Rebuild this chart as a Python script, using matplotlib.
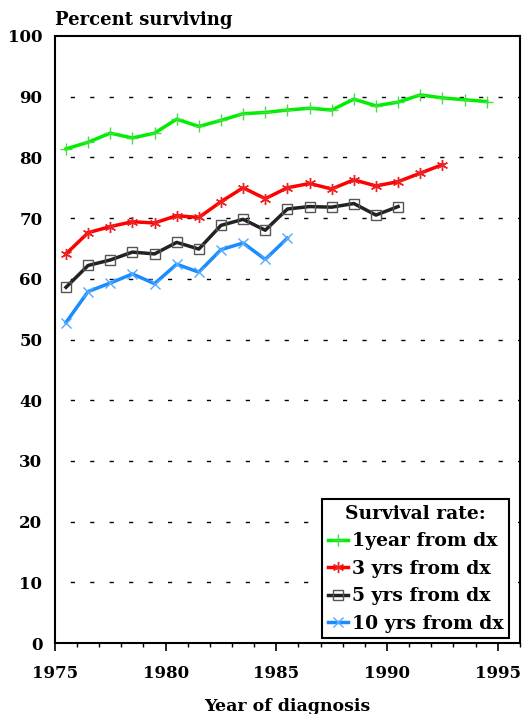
import matplotlib
matplotlib.use("Agg")
import matplotlib.pyplot as plt
from matplotlib.ticker import MultipleLocator

# year of diagnosis (mid-year points)
years = [1975.5 + i for i in range(20)]

surv_1yr = [81.4, 82.5, 84.0, 83.2, 84.0, 86.3, 85.1, 86.1, 87.2, 87.4,
            87.8, 88.1, 87.8, 89.6, 88.5, 89.1, 90.3, 89.8, 89.5, 89.2]
surv_3yr = [64.1, 67.6, 68.6, 69.4, 69.2, 70.4, 70.1, 72.7, 75.0, 73.2,
            75.0, 75.7, 74.8, 76.3, 75.3, 76.0, 77.4, 78.8]
surv_5yr = [58.6, 62.2, 63.1, 64.4, 64.1, 66.0, 64.9, 68.8, 69.8, 68.0,
            71.5, 71.9, 71.8, 72.4, 70.5, 71.9]
surv_10yr = [52.8, 57.9, 59.3, 60.8, 59.2, 62.4, 61.1, 64.8, 65.9, 63.2, 66.7]

labels = ["1year from dx", "3 yrs from dx", "5 yrs from dx", "10 yrs from dx"]

plt.rcParams['font.family'] = ['DejaVu Serif']
plt.rcParams['font.weight'] = 'bold'

fig = plt.figure(figsize=(5.23, 7.14), dpi=100)
ax = fig.add_axes([0.105, 0.0994, 0.889, 0.8502])

ax.plot(years[:len(surv_1yr)], surv_1yr, color='#00ee00', lw=2.5,
        marker='+', ms=8, mew=1.0, mec='#44dd44', label=labels[0])
ax.plot(years[:len(surv_3yr)], surv_3yr, color='#ff0000', lw=2.5,
        marker=(6, 2, 0), ms=8, mew=1.0, mec='#ee2222', label=labels[1])
ax.plot(years[:len(surv_5yr)], surv_5yr, color='#222222', lw=2.5,
        marker='s', ms=6.5, mew=1.0, mfc='none', mec='#555555', label=labels[2])
ax.plot(years[:len(surv_10yr)], surv_10yr, color='#1a8cff', lw=2.5,
        marker='x', ms=6.5, mew=1.0, mec='#55aaff', label=labels[3])

ax.set_xlim(1975, 1996)
ax.set_ylim(0, 100)
ax.xaxis.set_major_locator(MultipleLocator(5))
ax.xaxis.set_minor_locator(MultipleLocator(1))
ax.yaxis.set_major_locator(MultipleLocator(10))
ax.tick_params(axis='x', which='major', length=6, width=1.2, pad=10, labelsize=12)
ax.tick_params(axis='x', which='minor', length=3, width=1.0)
ax.tick_params(axis='y', length=0, pad=9, labelsize=12)
for lbl in ax.get_xticklabels() + ax.get_yticklabels():
    lbl.set_fontweight('bold')

for v in range(10, 100, 10):
    ax.axhline(v, color='black', lw=1.0, ls=(3, (3, 11)), zorder=0)

for sp in ax.spines.values():
    sp.set_linewidth(1.5)

ax.set_xlabel("Year of diagnosis", fontsize=12.5, fontweight='bold')
ax.xaxis.set_label_coords(0.5, -0.09)
fig.text(0.105, 0.972, "Percent surviving", ha='left', va='center',
         fontsize=13, fontweight='bold')

leg = ax.legend(loc='lower right', bbox_to_anchor=(0.977, 0.008), borderaxespad=0,
                title="Survival rate:", fontsize=13.5, title_fontsize=13.5,
                handlelength=1.1, handletextpad=0.2, labelspacing=0.5,
                fancybox=False, framealpha=1, borderpad=0.3)
leg.get_frame().set_edgecolor('black')
leg.get_frame().set_linewidth(1.5)
leg.get_title().set_fontweight('bold')
for t in leg.get_texts():
    t.set_fontweight('bold')

fig.savefig("out.png", dpi=100)
